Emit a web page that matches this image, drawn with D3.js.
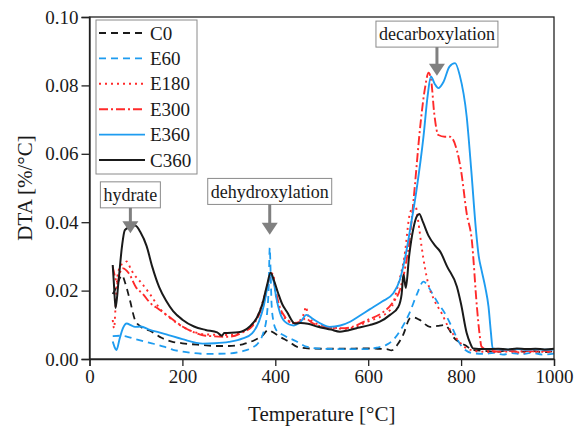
<!DOCTYPE html>
<html><head><meta charset="utf-8">
<script src="https://cdn.jsdelivr.net/npm/d3@7"></script>
<style>
body{margin:0;background:#fff;}
svg{display:block;font-family:"Liberation Serif","Times New Roman",serif;}
</style></head>
<body><svg id="c" width="579" height="434"></svg>
<script>
// ---- data ----
const seriesNames = ["C0","E60","E180","E300","E360","C360"];
const xTicks = [0,200,400,600,800,1000];
const yTicks = [0,0.02,0.04,0.06,0.08,0.10];

const c0 = [[50,0.019],[56,0.0205],[63,0.023],[70,0.0245],[76,0.0226],[87,0.0172],[98,0.0114],[110,0.0095],[134,0.008],[155,0.0062],[177,0.0051],[200,0.0046],[242,0.0041],[275,0.0038],[300,0.0038],[330,0.0043],[355,0.0055],[372,0.0068],[385,0.0085],[395,0.0078],[410,0.0065],[430,0.005],[446,0.0036],[470,0.0031],[500,0.003],[550,0.003],[590,0.0031],[620,0.003],[640,0.0029],[650,0.0025],[662,0.004],[675,0.007],[690,0.0119],[697,0.0122],[710,0.0115],[733,0.0094],[750,0.0097],[765,0.0099],[775,0.0085],[783,0.0065],[795,0.005],[808,0.0041],[826,0.0026],[850,0.0024],[875,0.0021],[900,0.0025],[925,0.0021],[950,0.0024],[975,0.002],[1000,0.0023]];

const e60 = [[50,0.0067],[65,0.0068],[82,0.0065],[100,0.0058],[134,0.0046],[160,0.0036],[180,0.0027],[205,0.0021],[250,0.0015],[300,0.0016],[330,0.0023],[350,0.0033],[365,0.005],[375,0.008],[382,0.013],[386,0.022],[388,0.0325],[390,0.025],[392,0.016],[396,0.011],[402,0.0085],[420,0.0068],[445,0.0052],[467,0.0036],[500,0.003],[550,0.0029],[600,0.0029],[618,0.0033],[640,0.0042],[654,0.0056],[672,0.009],[690,0.0138],[705,0.019],[719,0.0226],[730,0.021],[740,0.0187],[752,0.016],[765,0.0134],[783,0.0085],[795,0.005],[805,0.0031],[826,0.0017],[850,0.0015],[870,0.0018],[890,0.0013],[910,0.0017],[930,0.0014],[950,0.0018],[975,0.0013],[1000,0.0016]];

const e180 = [[50,0.0114],[53,0.009],[56,0.015],[60,0.024],[68,0.0275],[75,0.028],[80,0.0285],[90,0.026],[100,0.024],[110,0.0225],[130,0.019],[150,0.015],[175,0.0118],[200,0.0095],[250,0.0072],[300,0.007],[330,0.008],[350,0.0098],[365,0.0135],[380,0.02],[390,0.0245],[395,0.025],[400,0.0195],[410,0.0145],[420,0.012],[440,0.0105],[455,0.0115],[462,0.0135],[466,0.0153],[470,0.013],[478,0.0112],[500,0.0098],[550,0.0088],[600,0.011],[647,0.0143],[665,0.022],[678,0.03],[690,0.0427],[701,0.045],[708,0.04],[715,0.0328],[729,0.0221],[743,0.017],[758,0.0134],[772,0.0095],[787,0.0065],[800,0.0045],[812,0.0031],[840,0.0022],[870,0.002],[900,0.0022],[930,0.0019],[960,0.0021],[1000,0.002]];

const e300 = [[50,0.027],[55,0.024],[60,0.022],[65,0.025],[72,0.0265],[85,0.025],[100,0.021],[115,0.019],[130,0.0165],[150,0.0145],[175,0.012],[200,0.0095],[225,0.0078],[250,0.0068],[300,0.0065],[330,0.0078],[350,0.0095],[365,0.013],[378,0.018],[388,0.024],[393,0.025],[400,0.0205],[410,0.015],[420,0.0125],[440,0.0105],[455,0.011],[465,0.0118],[480,0.0105],[500,0.0095],[550,0.009],[600,0.0115],[630,0.0135],[650,0.016],[670,0.021],[680,0.027],[690,0.036],[700,0.05],[712,0.068],[722,0.079],[730,0.0837],[736,0.081],[742,0.072],[751,0.0655],[765,0.065],[776,0.065],[791,0.061],[800,0.055],[812,0.0426],[823,0.0348],[834,0.0153],[840,0.007],[844,0.0036],[860,0.0025],[880,0.0022],[900,0.0025],[920,0.0021],[940,0.0024],[960,0.0022],[980,0.0024],[1000,0.0022]];

const e360 = [[50,0.0051],[54,0.0035],[58,0.0026],[65,0.006],[72,0.009],[80,0.0104],[90,0.0098],[98,0.0094],[110,0.0095],[130,0.0085],[150,0.0078],[170,0.007],[200,0.0058],[244,0.0045],[270,0.0046],[300,0.005],[330,0.006],[350,0.0075],[365,0.011],[375,0.0155],[383,0.021],[390,0.0245],[396,0.023],[402,0.018],[410,0.0135],[420,0.011],[440,0.0098],[455,0.011],[467,0.0129],[480,0.0118],[500,0.0102],[517,0.0094],[540,0.0098],[561,0.0109],[580,0.0125],[603,0.0145],[630,0.0168],[654,0.0192],[668,0.0231],[680,0.03],[690,0.0377],[704,0.0494],[719,0.065],[728,0.077],[735,0.0826],[743,0.0805],[751,0.0792],[762,0.081],[775,0.0855],[787,0.0865],[797,0.083],[812,0.0709],[822,0.055],[832,0.0377],[838,0.03],[844,0.026],[852,0.021],[859,0.0153],[864,0.008],[868,0.0031],[880,0.0028],[900,0.0027],[920,0.0029],[940,0.0027],[960,0.0028],[980,0.0027],[1000,0.0028]];

const c360 = [[50,0.0275],[53,0.021],[56,0.0149],[62,0.022],[70,0.033],[76,0.0377],[85,0.0385],[98,0.039],[110,0.037],[123,0.033],[135,0.027],[150,0.021],[165,0.017],[180,0.014],[200,0.0115],[225,0.0095],[250,0.0085],[275,0.0078],[285,0.0068],[290,0.0076],[320,0.0078],[345,0.0095],[360,0.012],[372,0.016],[382,0.0215],[390,0.0252],[397,0.023],[406,0.0193],[415,0.016],[425,0.0138],[442,0.0104],[455,0.0105],[470,0.0103],[490,0.0095],[520,0.0086],[539,0.008],[575,0.009],[603,0.0099],[625,0.0109],[647,0.0129],[665,0.0153],[672,0.019],[676,0.0246],[681,0.0208],[688,0.03],[697,0.038],[705,0.0418],[710,0.0424],[718,0.04],[730,0.036],[745,0.033],[755,0.0314],[770,0.027],[791,0.0211],[800,0.016],[812,0.0076],[820,0.0045],[826,0.0031],[850,0.0029],[880,0.003],[900,0.0028],[920,0.0031],[940,0.0029],[960,0.003],[980,0.0028],[1000,0.003]];

const seriesData = [c0, e60, e180, e300, e360, c360];
const seriesColors = ["#1a1a1a","#1e9cf0","#ff2a2a","#ff2a2a","#1e9cf0","#1a1a1a"];
const seriesDash = ["7,5","7,5","2,4","9,3,2,3",null,null];
const seriesWidth = [1.8,1.8,1.9,1.9,1.9,2.0];

// annotations: label, arrow x (°C), arrow tip value, box center value
const annLabels = ["hydrate","dehydroxylation","decarboxylation"];
const annX = [88, 388, 748];
const annTip = [0.0368, 0.0363, 0.0828];
const annBoxY = [0.0480, 0.0490, 0.0950];

// ---- chart ----
const svg = d3.select("#c");
const L = 89.5, R = 554, T = 17, B = 359;
const x = d3.scaleLinear().domain([0,1000]).range([L,R]);
const y = d3.scaleLinear().domain([0,0.10]).range([B,T]);
const axisColor = "#222";

svg.append("defs").append("clipPath").attr("id","clip")
  .append("rect").attr("x",L).attr("y",T).attr("width",R-L).attr("height",B-T);

const line = d3.line().x(d=>x(d[0])).y(d=>y(d[1])).curve(d3.curveMonotoneX);
const g = svg.append("g").attr("clip-path","url(#clip)");
seriesData.forEach((s,i)=>{
  g.append("path").attr("d",line(s)).attr("fill","none")
    .attr("stroke",seriesColors[i]).attr("stroke-width",seriesWidth[i])
    .attr("stroke-dasharray",seriesDash[i]).attr("stroke-linejoin","round");
});

// frame
svg.append("rect").attr("x",L).attr("y",T).attr("width",R-L).attr("height",B-T)
  .attr("fill","none").attr("stroke",axisColor).attr("stroke-width",1.3);

const xa = svg.append("g").attr("transform",`translate(0,${B})`)
  .call(d3.axisBottom(x).tickValues(xTicks).tickSize(7).tickPadding(4).tickFormat(d3.format("d")));
const ya = svg.append("g").attr("transform",`translate(${L},0)`)
  .call(d3.axisLeft(y).tickValues(yTicks).tickSize(8).tickPadding(3).tickFormat(d3.format(".2f")));
[xa,ya].forEach(a=>{
  a.select(".domain").attr("stroke",axisColor).attr("stroke-width",1.3);
  a.selectAll(".tick line").attr("stroke",axisColor).attr("stroke-width",1.3);
  a.selectAll("text").attr("fill","#1a1a1a").style("font-size","19px")
    .style("font-family","'Liberation Serif','Times New Roman',serif");
});

svg.append("text").attr("x",(L+R)/2).attr("y",421).attr("text-anchor","middle")
  .style("font-size","21px").attr("fill","#1a1a1a").text("Temperature [°C]");
svg.append("text").attr("transform",`translate(32,${(T+B)/2}) rotate(-90)`)
  .attr("text-anchor","middle").style("font-size","21px").attr("fill","#1a1a1a").text("DTA [%/°C]");

// legend
const lg = svg.append("g");
lg.append("rect").attr("x",96).attr("y",20).attr("width",101).attr("height",154)
  .attr("fill","#fff").attr("stroke","#8a8a8a").attr("stroke-width",1);
seriesNames.forEach((n,i)=>{
  const yy = 33 + i*25.4;
  lg.append("line").attr("x1",99).attr("x2",145).attr("y1",yy).attr("y2",yy)
    .attr("stroke",seriesColors[i]).attr("stroke-width",seriesWidth[i])
    .attr("stroke-dasharray",seriesDash[i]);
  lg.append("text").attr("x",150).attr("y",yy).attr("dy","0.35em")
    .style("font-size","19px").attr("fill","#1a1a1a").text(n);
});

// annotations
annLabels.forEach((lab,i)=>{
  const ag = svg.append("g");
  const t = ag.append("text").attr("x",x(annX[i])).attr("y",y(annBoxY[i])).attr("dy","0.35em")
    .attr("text-anchor","middle").style("font-size","18px").attr("fill","#1a1a1a").text(lab);
  const bb = t.node().getBBox();
  const bx = bb.x-3, bw = bb.width+6, by = y(annBoxY[i])-13, bh = 26;
  ag.insert("rect","text").attr("x",bx).attr("y",by).attr("width",bw).attr("height",bh)
    .attr("fill","#fff").attr("stroke","#8a8a8a").attr("stroke-width",1);
  const ax = x(annX[i]), tip = y(annTip[i]), top = by+bh;
  ag.append("line").attr("x1",ax).attr("x2",ax).attr("y1",top).attr("y2",tip-10)
    .attr("stroke","#808080").attr("stroke-width",3);
  ag.append("path").attr("d",`M${ax-8},${tip-12}L${ax+8},${tip-12}L${ax},${tip}Z`).attr("fill","#808080");
});
</script></body></html>
